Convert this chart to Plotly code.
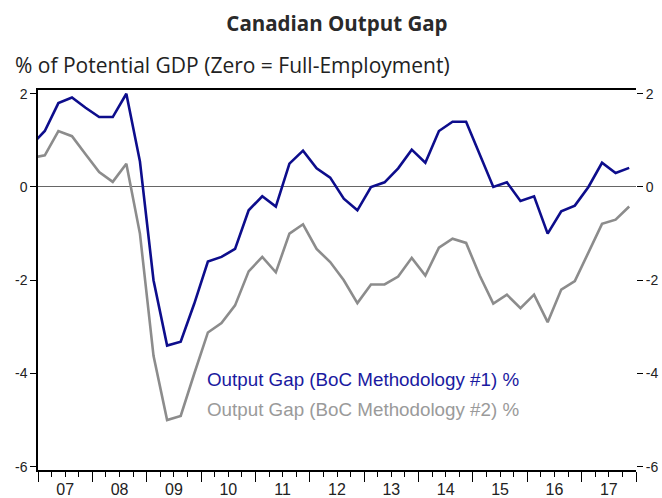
import plotly.graph_objects as go

# ---- data (quarterly, %) ----
quarters = ["2006Q4",
            "2007Q1", "2007Q2", "2007Q3", "2007Q4",
            "2008Q1", "2008Q2", "2008Q3", "2008Q4",
            "2009Q1", "2009Q2", "2009Q3", "2009Q4",
            "2010Q1", "2010Q2", "2010Q3", "2010Q4",
            "2011Q1", "2011Q2", "2011Q3", "2011Q4",
            "2012Q1", "2012Q2", "2012Q3", "2012Q4",
            "2013Q1", "2013Q2", "2013Q3", "2013Q4",
            "2014Q1", "2014Q2", "2014Q3", "2014Q4",
            "2015Q1", "2015Q2", "2015Q3", "2015Q4",
            "2016Q1", "2016Q2", "2016Q3", "2016Q4",
            "2017Q1", "2017Q2", "2017Q3", "2017Q4"]

gap_method1 = [0.9,
               1.2, 1.8, 1.92, 1.7,
               1.5, 1.5, 2.0, 0.55,
               -2.0, -3.4, -3.32, -2.5,
               -1.6, -1.5, -1.33, -0.5,
               -0.2, -0.42, 0.5, 0.78,
               0.4, 0.2, -0.25, -0.5,
               0.0, 0.1, 0.4, 0.8,
               0.52, 1.2, 1.4, 1.4,
               0.7, 0.0, 0.1, -0.3,
               -0.2, -1.0, -0.52, -0.4,
               0.0, 0.52, 0.3, 0.41]

gap_method2 = [0.62,
               0.68, 1.2, 1.09, 0.7,
               0.32, 0.11, 0.5, -1.0,
               -3.62, -5.0, -4.91, -4.0,
               -3.12, -2.92, -2.54, -1.81,
               -1.5, -1.83, -1.0, -0.8,
               -1.33, -1.61, -2.0, -2.49,
               -2.09, -2.09, -1.92, -1.52,
               -1.9, -1.3, -1.11, -1.2,
               -1.9, -2.5, -2.31, -2.6,
               -2.31, -2.9, -2.2, -2.02,
               -1.4, -0.79, -0.7, -0.42]

years = list(range(2007, 2018))
year_labels = ["07", "08", "09", "10", "11", "12", "13", "14", "15", "16", "17"]
y_ticks = [2, 0, -2, -4, -6]
y_tick_labels = ["2", "0", "-2", "-4", "-6"]

name1 = "Output Gap (BoC Methodology #1) %"
name2 = "Output Gap (BoC Methodology #2) %"

# quarter label -> mid-quarter position on a decimal-year axis
def qpos(q):
    return int(q[:4]) + (int(q[5]) - 0.5) / 4.0

xs = [qpos(q) for q in quarters]

BLUE = "#0d0d8c"
GREY = "#8c8c8c"

fig = go.Figure()
fig.add_trace(go.Scatter(x=xs, y=gap_method2, mode="lines", name=name2,
                         line=dict(color=GREY, width=2.6), showlegend=False))
fig.add_trace(go.Scatter(x=xs, y=gap_method1, mode="lines", name=name1,
                         line=dict(color=BLUE, width=2.6), showlegend=False))
# invisible trace to carry the label axis and the right axis
fig.add_trace(go.Scatter(x=[years[0] + 0.5], y=[0], xaxis="x2", yaxis="y2",
                         mode="markers", marker=dict(opacity=0), showlegend=False,
                         hoverinfo="skip"))

xr = [years[0], years[-1] + 1]
yr = [-6.07, 2.08]
tickfont_y = dict(family="Liberation Sans, Arial", size=14, color="#222")
tickfont_x = dict(family="Liberation Sans, Arial", size=16, color="#222")

quarter_bounds = [y + k / 4.0 for y in years for k in range(1, 4)]

fig.update_layout(
    width=662, height=498,
    paper_bgcolor="white", plot_bgcolor="white",
    margin=dict(l=38, r=26, t=90, b=28, autoexpand=False),
    title=dict(text="<b>Canadian Output Gap</b>", x=0.509, xanchor="center",
               y=0.952, yanchor="middle",
               font=dict(family="Open Sans", size=20.5, color="#2a2a2a")),
    xaxis=dict(range=xr, showgrid=False, zeroline=False, automargin=False,
               showline=True, linecolor="black", linewidth=1.5, mirror=True,
               tickmode="array", tickvals=years + [years[-1] + 1],
               ticks="outside", ticklen=10, tickcolor="black", tickwidth=1.2,
               showticklabels=False,
               minor=dict(tickmode="array", tickvals=quarter_bounds,
                          ticks="outside", ticklen=5, tickcolor="black",
                          tickwidth=1.2, showgrid=False)),
    xaxis2=dict(range=xr, overlaying="x", anchor="y", side="bottom",
                showgrid=False, zeroline=False, showline=False, automargin=False,
                tickmode="array", tickvals=[y + 0.5 for y in years],
                ticktext=year_labels, ticks="outside", ticklen=5,
                tickcolor="rgba(0,0,0,0)", tickfont=tickfont_x),
    yaxis=dict(range=yr, showgrid=False, zeroline=True, zerolinecolor="#666",
               zerolinewidth=1.2, showline=True, linecolor="black", linewidth=1.5,
               automargin=False,
               tickmode="array", tickvals=y_ticks, ticktext=y_tick_labels,
               ticks="outside", ticklen=6, tickcolor="black", tickwidth=1.2,
               tickfont=tickfont_y),
    yaxis2=dict(range=yr, overlaying="y", anchor="x", side="right",
                showgrid=False, zeroline=False, showline=False, automargin=False,
                tickmode="array", tickvals=y_ticks, ticktext=y_tick_labels,
                ticks="outside", ticklen=6, tickcolor="black", tickwidth=1.2,
                tickfont=tickfont_y),
    annotations=[
        dict(text="% of Potential GDP (Zero = Full-Employment)", xref="paper", yref="paper",
             x=-0.042, y=1.066, xanchor="left", yanchor="middle", showarrow=False,
             font=dict(family="Open Sans", size=21, color="#222")),
        dict(text=name1, xref="paper", yref="paper", x=0.279, y=0.237,
             xanchor="left", yanchor="middle", showarrow=False,
             font=dict(family="Liberation Sans, Arial", size=18.8, color="#1a1aa0")),
        dict(text=name2, xref="paper", yref="paper", x=0.279, y=0.16,
             xanchor="left", yanchor="middle", showarrow=False,
             font=dict(family="Liberation Sans, Arial", size=18.8, color="#9a9a9a")),
    ],
)

fig.write_html("out.html",
               config={"displayModeBar": False},
               post_script="document.body.style.margin='0px';document.body.style.overflow='hidden';")
